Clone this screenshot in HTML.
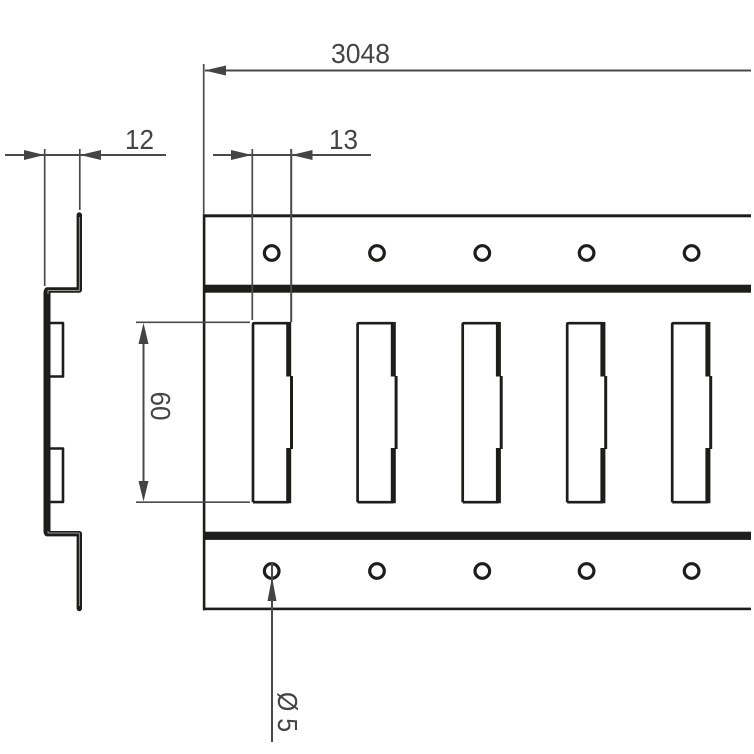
<!DOCTYPE html>
<html><head><meta charset="utf-8"><style>html,body{margin:0;padding:0;background:#fff}svg{display:block}text{font-family:"Liberation Sans",sans-serif;fill:#444;font-size:28px}</style></head><body>
<svg width="754" height="754" viewBox="0 0 754 754" xmlns="http://www.w3.org/2000/svg">
<defs>
<g id="slot"><path d="M1.3 502.2V324.5Q1.3 323.2 2.6 323.2H37M1.3 502.2H37" fill="none" stroke="#1d1d1b" stroke-width="2.7"/><path d="M37 322V376.5M37 448V503.3" fill="none" stroke="#1d1d1b" stroke-width="5"/><path d="M39.8 376V449" fill="none" stroke="#1d1d1b" stroke-width="3"/></g>
</defs>
<!-- rail -->
<g fill="#1d1d1b">
<rect x="203" y="214.3" width="548" height="3"/>
<rect x="203" y="284.7" width="548" height="8"/>
<rect x="203" y="531.7" width="548" height="8.2"/>
<rect x="203" y="607.6" width="548" height="2.6"/>
<rect x="202.8" y="214.3" width="2.6" height="396"/>
</g>
<g fill="none" stroke="#1d1d1b" stroke-width="3.2">
<circle cx="271.7" cy="253" r="7.3"/><circle cx="377" cy="253" r="7.3"/><circle cx="482.3" cy="253" r="7.3"/><circle cx="586.6" cy="253" r="7.3"/><circle cx="691.6" cy="253" r="7.3"/>
<circle cx="271.7" cy="571" r="7.3"/><circle cx="377" cy="571" r="7.3"/><circle cx="482.3" cy="571" r="7.3"/><circle cx="586.6" cy="571" r="7.3"/><circle cx="691.6" cy="571" r="7.3"/>
</g>
<use href="#slot" x="251.7"/><use href="#slot" x="356.3"/><use href="#slot" x="461.4"/><use href="#slot" x="565.9"/><use href="#slot" x="670.9"/>
<!-- side profile -->
<g fill="none" stroke="#1d1d1b" stroke-linejoin="round" stroke-linecap="round">
<path d="M79.3 215V290H47V533.7H79.3V608.5" stroke-width="5.4"/>
<path d="M47 292V532" stroke-width="7"/>
<path d="M47 323H63V376.5H47M47 448.5H63V502H47" stroke-width="2.6" stroke-linecap="butt"/>
</g>
<path d="M79.3 217V290.5H48V533H79.3V606" fill="none" stroke="#fff" stroke-width="0.7" stroke-linejoin="round" opacity=".75"/>
<path d="M47 294V531" stroke="#1d1d1b" stroke-width="7" fill="none"/>
<!-- dimension lines -->
<g stroke="#4a4a4a" fill="none" stroke-width="1.7">
<path d="M203.7 64V215"/>
<path d="M205 70.5H751" stroke-width="2"/>
<path d="M5 155H166" stroke-width="1.9"/>
<path d="M44.7 149V286"/>
<path d="M79.8 149V210"/>
<path d="M213 155H371" stroke-width="1.9"/>
<path d="M252.3 149V320"/>
<path d="M291.2 149V322" stroke-width="2"/>
<path d="M136 322.3H250"/>
<path d="M136 502.2H250"/>
<path d="M143.5 335V490" stroke-width="2"/>
<path d="M272 563V742" stroke-width="2"/>
</g>
<g fill="#444">
<path d="M204.5 70.5L226 65.5V75.5Z"/>
<path d="M44.5 155L24 150V160Z"/>
<path d="M80 155L101 150V160Z"/>
<path d="M252 155L231 150V160Z"/>
<path d="M291.5 155L312.5 150V160Z"/>
<path d="M143.5 323L138.5 344H148.5Z"/>
<path d="M143.5 501.5L138.5 481H148.5Z"/>
<path d="M272 577L267.5 601H276.5Z"/>
</g>
<!-- labels -->
<text x="331" y="63" textLength="59" lengthAdjust="spacingAndGlyphs">3048</text>
<text x="125" y="149" textLength="29" lengthAdjust="spacingAndGlyphs">12</text>
<text x="329" y="149" textLength="29" lengthAdjust="spacingAndGlyphs">13</text>
<text transform="translate(151 391.5) rotate(90)" textLength="29" lengthAdjust="spacingAndGlyphs">60</text>
<text transform="translate(278 692) rotate(90)" textLength="40" lengthAdjust="spacingAndGlyphs">Ø 5</text>
</svg>
</body></html>
